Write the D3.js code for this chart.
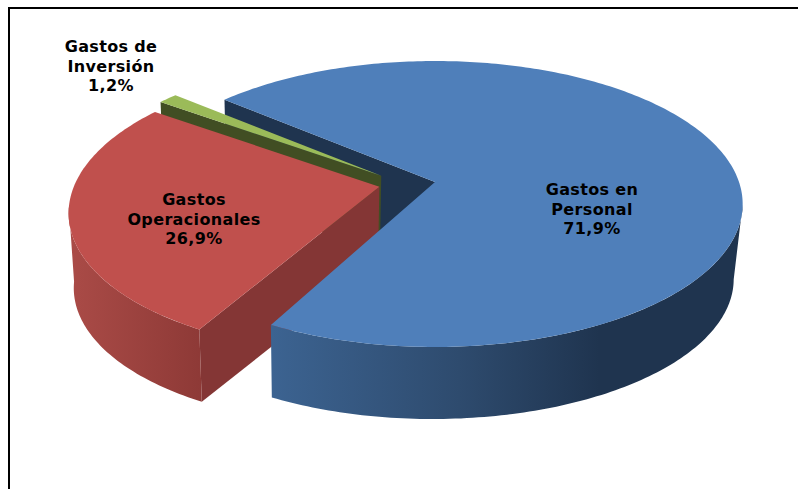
<!DOCTYPE html>
<html>
<head>
<meta charset="utf-8">
<script src="https://cdn.jsdelivr.net/npm/d3@7/dist/d3.min.js"></script>
<style>
html,body{margin:0;padding:0;background:#fff;overflow:hidden}
svg{display:block}
text{font-family:"DejaVu Sans",Verdana,sans-serif;font-weight:bold;font-size:16px;letter-spacing:0.35px;fill:#000}
</style>
</head>
<body>
<svg id="c" width="798" height="489"></svg>
<script>
// ---- data ----
const categories = ["Gastos en Personal", "Gastos Operacionales", "Gastos de Inversión"];
const values = [71.9, 26.9, 1.2];
const labelLines = [["Gastos en", "Personal"], ["Gastos", "Operacionales"], ["Gastos de", "Inversión"]];

// ---- layout / style ----
const topColors = ["#4f7fba", "#c0504d", "#9bbb59"];
const wallColors = ["#1f344f", "#843635", "#414e23"];
const explode = [[0, 0], [-0.182, 0.034], [-0.178, -0.045]];
const turnDeg = [0, 1.2, 1.6];
const labelAnchors = [[592, 195], [194, 205], [111, 52]];
const firstAngle = -49.6 * Math.PI / 180;
const sweep = 358 * Math.PI / 180;

const CX = 435, CY = 182, RX = 304, RY = 139.6, K = 0.1538;
const DEPTH = 75.5, SHRINK = 0.979, SHIFT = -2.5;

const svg = d3.select("#c");
const defs = svg.append("defs");
function gradient(id, stops, x1, x2) {
  const g = defs.append("linearGradient").attr("id", id)
    .attr("gradientUnits", "userSpaceOnUse")
    .attr("x1", x1).attr("x2", x2).attr("y1", 0).attr("y2", 0);
  stops.forEach(s => g.append("stop").attr("offset", s[0]).attr("stop-color", s[1]));
}
gradient("blueWall", [[0, "#3c6391"], [0.4, "#2e4b6e"], [0.7, "#1f344f"], [1, "#1f344f"]], 272, 740);
gradient("redWall", [[0, "#aa4b47"], [1, "#8d3936"]], 70, 205);

// frame
svg.append("path").attr("d", "M9,489V8H798").attr("fill", "none").attr("stroke", "#000").attr("stroke-width", 2);

const rad = d => d * Math.PI / 180;
const slices = d3.pie().sort(null).startAngle(firstAngle).endAngle(firstAngle + sweep)(values)
  .map((s, i) => ({...s, startAngle: s.startAngle + rad(turnDeg[i]), endAngle: s.endAngle + rad(turnDeg[i])}));

// perspective projection: u right, v towards viewer, bottom flag selects the lower face
function project(u, v, bottom) {
  const s = 1 / (1 - K * v);
  const f = bottom ? SHRINK : 1;
  return [CX + (bottom ? SHIFT : 0) + f * RX * u * s,
          CY + (bottom ? DEPTH : 0) + f * RY * v * s];
}
function rim(i, a, bottom) {
  const e = explode[i];
  return project(Math.sin(a) + e[0], -Math.cos(a) + e[1], bottom);
}
function apex(i, bottom) {
  const e = explode[i];
  return project(e[0], e[1], bottom);
}
function arcPts(i, a0, a1, bottom) {
  const n = Math.max(2, Math.ceil(Math.abs(a1 - a0) * 60));
  return d3.range(n + 1).map(j => rim(i, a0 + (a1 - a0) * j / n, bottom));
}
const line = d3.line().curve(d3.curveLinear);
function poly(pts, fill) {
  svg.append("path").attr("d", line(pts) + "Z").attr("fill", fill);
}
function topFace(i) {
  const s = slices[i];
  poly([apex(i, false), ...arcPts(i, s.startAngle, s.endAngle, false)], topColors[i]);
}
function edgeWall(i, a) {
  poly([apex(i, false), rim(i, a, false), rim(i, a, true), apex(i, true)], wallColors[i]);
}
function outerWall(i, a0, a1, fill) {
  poly([...arcPts(i, a0, a1, false), ...arcPts(i, a1, a0, true)], fill);
}

// back to front
edgeWall(0, slices[0].startAngle);
edgeWall(2, slices[2].startAngle);
topFace(2);
edgeWall(1, slices[1].startAngle);
outerWall(1, slices[1].startAngle, rad(262), "url(#redWall)");
topFace(1);
outerWall(0, rad(99), slices[0].endAngle, "url(#blueWall)");
topFace(0);

// labels
const fmt = v => v.toFixed(1).replace(".", ",") + "%";
const lineHeight = 19.5;
categories.forEach((c, i) => {
  const lines = [...labelLines[i], fmt(values[i])];
  const t = svg.append("text").attr("text-anchor", "middle");
  lines.forEach((l, j) => {
    t.append("tspan").attr("x", labelAnchors[i][0]).attr("y", labelAnchors[i][1] + j * lineHeight).text(l);
  });
});
</script>
</body>
</html>
